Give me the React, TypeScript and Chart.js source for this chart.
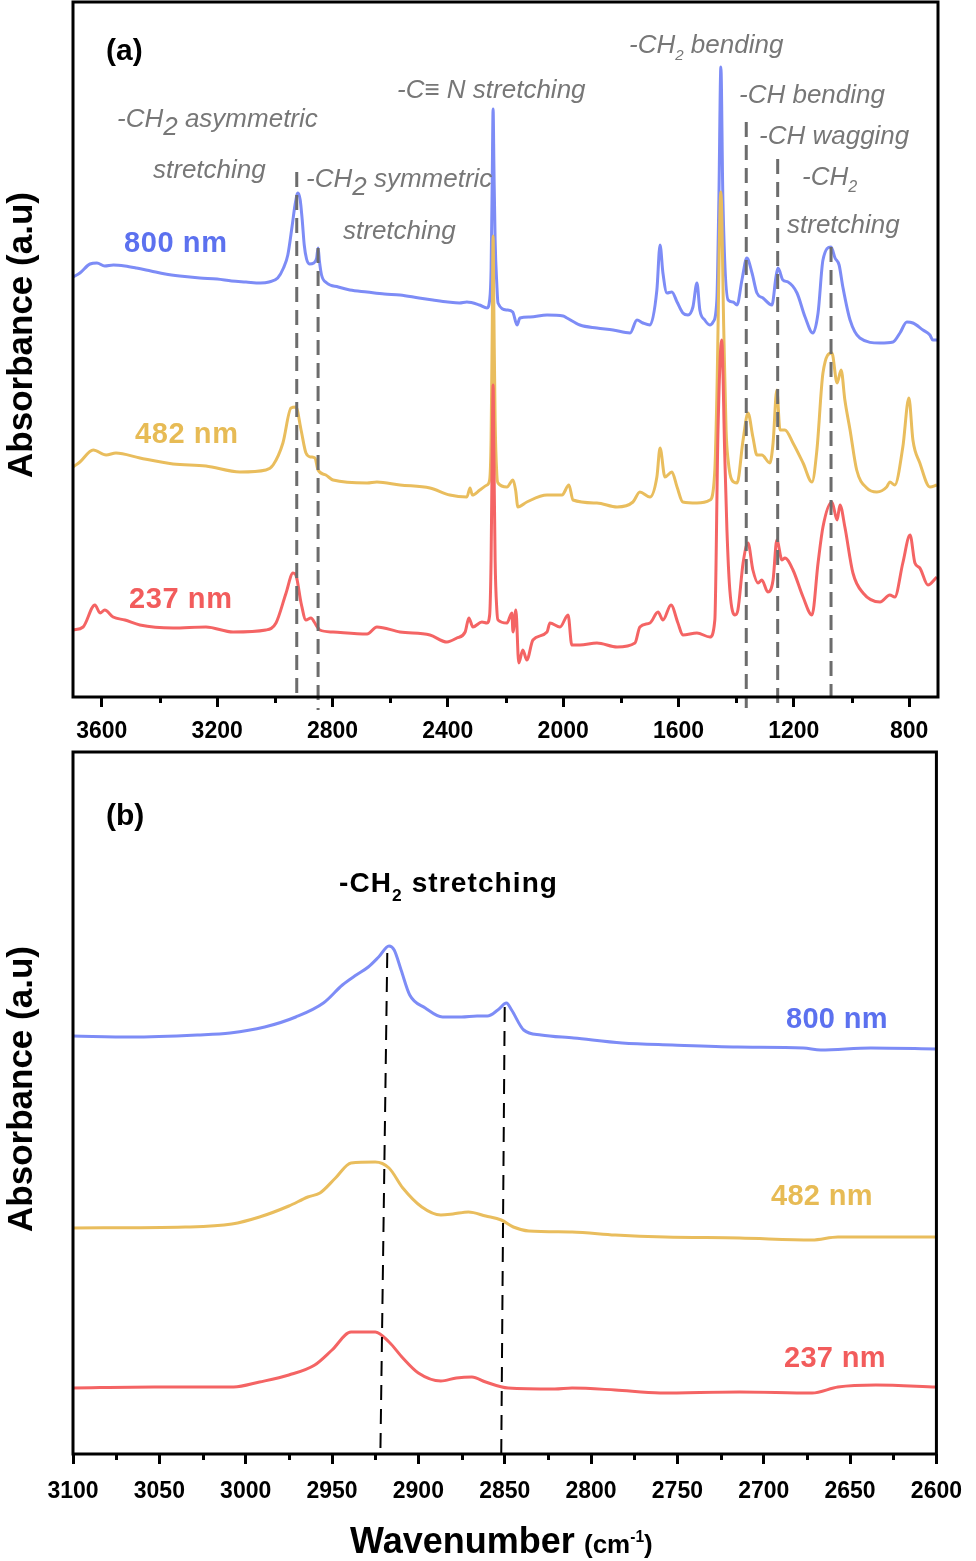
import React, { useEffect, useRef } from 'react';
import { Chart, registerables } from 'chart.js';

Chart.register(...registerables);

const FONT = "'Liberation Sans', Arial, Helvetica, sans-serif";

// ---------------- Panel (a): full FTIR spectra [wavenumber cm-1, absorbance (a.u., offset)] ----------------
const specA800: [number, number][] = [
  [3700, 420], [3676, 424], [3641, 433], [3617, 434], [3590, 431], [3560, 432], [3520, 431], [3480, 429],
  [3430, 426], [3380, 423], [3330, 421], [3260, 419], [3200, 418], [3150, 416], [3100, 415], [3050, 414],
  [3020, 415], [2990, 419], [2970, 429], [2955, 442], [2940, 471], [2930, 492], [2920, 504], [2912, 497],
  [2905, 477], [2898, 452], [2890, 438], [2880, 433], [2865, 434], [2855, 439], [2850, 449], [2845, 435],
  [2838, 422], [2820, 414], [2780, 410], [2740, 407], [2680, 405], [2620, 403], [2566, 402], [2500, 399],
  [2452, 397], [2400, 395], [2360, 394], [2334, 395], [2290, 392], [2264, 389], [2255, 397], [2250, 427],
  [2246, 517], [2243, 588], [2240, 527], [2236, 457], [2230, 412], [2226, 394], [2195, 387], [2175, 385],
  [2160, 372], [2150, 379], [2115, 380], [2056, 382], [2000, 381], [1987, 379], [1942, 372], [1883, 369],
  [1827, 367], [1768, 364], [1744, 377], [1723, 374], [1699, 372], [1675, 407], [1664, 452], [1654, 424],
  [1640, 404], [1623, 405], [1605, 395], [1585, 384], [1567, 382], [1550, 390], [1536, 414], [1526, 387],
  [1509, 377], [1491, 372], [1480, 375], [1467, 397], [1460, 497], [1453, 630], [1446, 497], [1428, 397],
  [1411, 395], [1397, 392], [1380, 417], [1363, 439], [1345, 424], [1328, 404], [1307, 399], [1276, 392],
  [1262, 420], [1255, 429], [1238, 417], [1220, 415], [1189, 404], [1161, 380], [1134, 364], [1116, 384],
  [1099, 437], [1071, 450], [1057, 439], [1043, 432], [1030, 410], [1005, 377], [971, 359], [901, 354],
  [856, 355], [832, 364], [808, 375], [787, 374], [752, 367], [728, 362], [718, 357], [700, 357],
];

const specA482: [number, number][] = [
  [3700, 230], [3676, 235], [3630, 247], [3585, 242], [3551, 244], [3468, 239], [3353, 233], [3239, 231],
  [3121, 225], [3031, 227], [3006, 232], [2972, 254], [2944, 289], [2927, 290], [2909, 267], [2892, 244],
  [2875, 240], [2861, 239], [2850, 227], [2823, 222], [2798, 217], [2680, 214], [2646, 215], [2566, 212],
  [2462, 209], [2393, 202], [2334, 200], [2323, 209], [2315, 202], [2289, 207], [2264, 212], [2255, 217],
  [2250, 257], [2246, 367], [2243, 461], [2240, 377], [2236, 277], [2230, 222], [2226, 214], [2195, 210],
  [2174, 217], [2165, 207], [2157, 190], [2126, 195], [2056, 202], [2004, 202], [1980, 212], [1966, 197],
  [1883, 194], [1813, 190], [1758, 195], [1734, 205], [1699, 200], [1675, 220], [1664, 249], [1647, 220],
  [1623, 225], [1605, 210], [1585, 195], [1536, 194], [1491, 197], [1474, 227], [1467, 300], [1453, 505],
  [1443, 367], [1435, 267], [1428, 237], [1415, 217], [1397, 214], [1376, 257], [1359, 284], [1342, 260],
  [1328, 242], [1311, 242], [1283, 234], [1272, 254], [1259, 307], [1248, 267], [1231, 267], [1203, 254],
  [1168, 234], [1137, 215], [1120, 247], [1099, 324], [1068, 344], [1050, 314], [1036, 327], [1023, 297],
  [1005, 267], [982, 227], [947, 209], [912, 205], [878, 210], [867, 215], [850, 212], [822, 250],
  [801, 299], [787, 257], [763, 234], [728, 210], [704, 212],
];

const specA237: [number, number][] = [
  [3700, 67], [3665, 70], [3624, 92], [3606, 84], [3590, 87], [3561, 80], [3520, 77], [3468, 72],
  [3353, 69], [3239, 70], [3145, 65], [3031, 67], [2996, 74], [2961, 104], [2937, 124], [2927, 122],
  [2909, 94], [2892, 77], [2875, 79], [2857, 72], [2844, 67], [2798, 65], [2680, 63], [2646, 70],
  [2566, 65], [2462, 62], [2403, 55], [2369, 59], [2340, 65], [2327, 79], [2313, 70], [2282, 75],
  [2264, 74], [2255, 82], [2250, 137], [2246, 247], [2243, 312], [2240, 237], [2236, 137], [2230, 87],
  [2226, 77], [2195, 74], [2178, 84], [2174, 65], [2164, 87], [2154, 34], [2140, 47], [2126, 37],
  [2105, 57], [2056, 65], [2046, 74], [2011, 70], [1983, 82], [1970, 52], [1942, 52], [1883, 54],
  [1813, 50], [1751, 54], [1734, 70], [1699, 74], [1671, 85], [1654, 77], [1626, 92], [1602, 74],
  [1585, 62], [1536, 64], [1491, 60], [1474, 77], [1463, 267], [1450, 357], [1440, 247], [1432, 167],
  [1422, 107], [1404, 82], [1394, 87], [1376, 134], [1359, 154], [1342, 127], [1324, 114], [1311, 117],
  [1290, 105], [1272, 117], [1259, 157], [1241, 137], [1231, 139], [1203, 127], [1168, 100], [1137, 82],
  [1116, 134], [1099, 170], [1068, 195], [1050, 177], [1040, 192], [1023, 170], [995, 124], [960, 104],
  [901, 95], [867, 102], [850, 100], [822, 134], [797, 162], [780, 134], [763, 129], [735, 112], [704, 120],
];

const ticksA = [3600, 3200, 2800, 2400, 2000, 1600, 1200, 800];
const minorTicksA = [3400, 3000, 2600, 2200, 1800, 1400, 1000];
// assigned bands: [wavenumber, top of dashed line, bottom of dashed line] (a.u.)
const bandLinesA: [number, number, number][] = [
  [2924, 525, 0], [2850, 449, -13], [1365, 575, -11], [1256, 538, -13], [1071, 450, 0],
];

// ---------------- Panel (b): C-H stretching region ----------------
const specB800: [number, number][] = [
  [3100, 418], [3066, 417], [3028, 419], [3009, 421], [2989, 427], [2971, 437], [2955, 451], [2944, 469],
  [2936, 479], [2929, 487], [2923, 497], [2917, 508], [2914, 504], [2910, 484], [2905, 459], [2896, 446],
  [2886, 437], [2875, 437], [2866, 438], [2860, 438], [2854, 444], [2849, 451], [2846, 444], [2839, 424],
  [2829, 419], [2810, 416], [2782, 411], [2753, 409], [2715, 407], [2677, 406], [2667, 404], [2638, 406],
  [2600, 405],
];

const specB482: [number, number][] = [
  [3100, 226], [3035, 227], [3008, 230], [2992, 237], [2975, 248], [2964, 257], [2957, 261], [2948, 276],
  [2939, 291], [2925, 292], [2917, 286], [2909, 266], [2898, 247], [2887, 239], [2880, 240], [2871, 242],
  [2861, 238], [2852, 234], [2845, 227], [2836, 223], [2811, 222], [2786, 219], [2757, 217], [2714, 216],
  [2672, 214], [2657, 217], [2635, 217], [2600, 217],
];

const specB237: [number, number][] = [
  [3100, 66], [3053, 67], [3007, 67], [2992, 72], [2975, 79], [2960, 89], [2950, 104], [2939, 122],
  [2925, 122], [2917, 112], [2909, 96], [2900, 81], [2887, 73], [2878, 76], [2869, 77], [2861, 72],
  [2848, 66], [2821, 65], [2811, 66], [2786, 64], [2760, 61], [2714, 62], [2672, 61], [2657, 67],
  [2635, 69], [2600, 67],
];

const ticksB = [3100, 3050, 3000, 2950, 2900, 2850, 2800, 2750, 2700, 2650, 2600];
const minorTicksB = [3075, 3025, 2975, 2925, 2875, 2825, 2775, 2725, 2675, 2625];
// [wavenumber at top, top (a.u.), wavenumber at bottom, bottom (a.u.)]
const bandLinesB: [number, number, number, number][] = [
  [2918, 501, 2922, 0],
  [2850, 447, 2852, 0],
];

const seriesNames = ['237 nm', '482 nm', '800 nm'];
const lineColors = ['#f46464', '#e9bd5d', '#7d8cf6'];
const labelColors = ['#f25c5c', '#e7bb55', '#5c71ef'];

type Seg = { t: string; size?: number; dy?: number };

function drawRich(ctx: CanvasRenderingContext2D, x: number, y: number, segs: Seg[], size: number,
  weight: string, style: string, color: string, spacing = 0) {
  let cx = x;
  ctx.save();
  ctx.fillStyle = color;
  ctx.textAlign = 'left';
  ctx.textBaseline = 'alphabetic';
  (ctx as any).letterSpacing = `${spacing}px`;
  for (const s of segs) {
    const sz = s.size ? size * s.size : size;
    ctx.font = `${style} ${weight} ${sz}px ${FONT}`;
    ctx.fillText(s.t, cx, y + (s.dy || 0));
    cx += ctx.measureText(s.t).width;
  }
  ctx.restore();
}

const notesA: { x: number; y: number; segs: Seg[] }[] = [
  { x: 117, y: 127, segs: [{ t: '-CH' }, { t: '2', dy: 8 }, { t: ' asymmetric' }] },
  { x: 153, y: 178, segs: [{ t: 'stretching' }] },
  { x: 306, y: 187, segs: [{ t: '-CH' }, { t: '2', dy: 8 }, { t: ' symmetric' }] },
  { x: 343, y: 239, segs: [{ t: 'stretching' }] },
  { x: 397, y: 98, segs: [{ t: '-C≡ N stretching' }] },
  { x: 629, y: 53, segs: [{ t: '-CH' }, { t: '2', size: 0.58, dy: 7 }, { t: ' bending' }] },
  { x: 739, y: 103, segs: [{ t: '-CH bending' }] },
  { x: 759, y: 144, segs: [{ t: '-CH wagging' }] },
  { x: 802, y: 185, segs: [{ t: '-CH' }, { t: '2', size: 0.62, dy: 7 }] },
  { x: 787, y: 233, segs: [{ t: 'stretching' }] },
];

const seriesLabelsA = [
  { x: 129, y: 608 }, { x: 135, y: 443 }, { x: 124, y: 252 },
];
const seriesLabelsB = [
  { x: 784, y: 617 }, { x: 771, y: 455 }, { x: 786, y: 278 },
];

function drawYTitle(ctx: CanvasRenderingContext2D, cx: number, cy: number) {
  ctx.save();
  ctx.translate(cx, cy);
  ctx.rotate(-Math.PI / 2);
  ctx.font = `bold 35px ${FONT}`;
  ctx.fillStyle = '#000';
  ctx.textAlign = 'center';
  ctx.textBaseline = 'alphabetic';
  ctx.fillText('Absorbance (a.u)', 0, 0);
  ctx.restore();
}

function drawMinorTicks(ctx: CanvasRenderingContext2D, scale: any, bottom: number, values: number[], len: number) {
  ctx.strokeStyle = '#000';
  ctx.lineWidth = 3;
  for (const v of values) {
    const px = Math.round(scale.getPixelForValue(v)) + 0.5;
    ctx.beginPath();
    ctx.moveTo(px, bottom);
    ctx.lineTo(px, bottom + len);
    ctx.stroke();
  }
}

const decorA = {
  id: 'decorA',
  afterDatasetsDraw(chart: any) {
    const { ctx, chartArea: ca, scales } = chart;
    const x = scales.x, y = scales.y;
    ctx.save();
    ctx.strokeStyle = '#6c6c6c';
    ctx.lineWidth = 3;
    ctx.setLineDash([15, 8]);
    for (const [wn, top, bot] of bandLinesA) {
      const px = x.getPixelForValue(wn);
      ctx.beginPath();
      ctx.moveTo(px, y.getPixelForValue(top));
      ctx.lineTo(px, y.getPixelForValue(bot));
      ctx.stroke();
    }
    ctx.setLineDash([]);
    ctx.strokeStyle = '#000';
    ctx.lineWidth = 3;
    ctx.strokeRect(ca.left, ca.top, ca.right - ca.left, ca.bottom - ca.top);
    drawMinorTicks(ctx, x, ca.bottom, minorTicksA, 6);
    for (const n of notesA) drawRich(ctx, n.x, n.y, n.segs, 26, 'normal', 'italic', '#777777');
    seriesLabelsA.forEach((p, i) => drawRich(ctx, p.x, p.y, [{ t: seriesNames[i] }], 29, 'bold', 'normal', labelColors[i], 0.6));
    drawRich(ctx, 106, 60, [{ t: '(a)' }], 30, 'bold', 'normal', '#000');
    drawYTitle(ctx, 32, 335);
    ctx.restore();
  },
};

const decorB = {
  id: 'decorB',
  afterDatasetsDraw(chart: any) {
    const { ctx, chartArea: ca, scales } = chart;
    const x = scales.x, y = scales.y;
    ctx.save();
    ctx.strokeStyle = '#000';
    ctx.lineWidth = 2;
    ctx.setLineDash([15, 9]);
    for (const [wt, top, wb, bot] of bandLinesB) {
      ctx.beginPath();
      ctx.moveTo(x.getPixelForValue(wt), y.getPixelForValue(top));
      ctx.lineTo(x.getPixelForValue(wb), y.getPixelForValue(bot));
      ctx.stroke();
    }
    ctx.setLineDash([]);
    ctx.lineWidth = 3;
    ctx.strokeRect(ca.left, ca.top, ca.right - ca.left, ca.bottom - ca.top);
    drawMinorTicks(ctx, x, ca.bottom, minorTicksB, 6);
    drawRich(ctx, 339, 142, [{ t: '-CH' }, { t: '2', size: 0.62, dy: 9 }, { t: ' stretching' }], 28, 'bold', 'normal', '#000', 1.1);
    seriesLabelsB.forEach((p, i) => drawRich(ctx, p.x, p.y, [{ t: seriesNames[i] }], 29, 'bold', 'normal', labelColors[i], 0.3));
    drawRich(ctx, 106, 75, [{ t: '(b)' }], 30, 'bold', 'normal', '#000');
    drawYTitle(ctx, 32, 339);
    // x-axis title
    drawRich(ctx, 350, 803, [{ t: 'Wavenumber' }], 36, 'bold', 'normal', '#000');
    drawRich(ctx, 584, 803, [{ t: '(cm' }, { t: '-1', size: 0.6, dy: -11 }, { t: ')' }], 26, 'bold', 'normal', '#000');
    ctx.restore();
  },
};

function makeDatasets(series: [number, number][][]) {
  return series.map((s, i) => ({
    label: seriesNames[i],
    data: s.map(([wn, a]) => ({ x: wn, y: a })),
    borderColor: lineColors[i],
    backgroundColor: lineColors[i],
    borderWidth: 3,
    pointRadius: 0,
    cubicInterpolationMode: 'monotone' as const,
    borderJoinStyle: 'round' as const,
    fill: false,
  }));
}

function xScale(min: number, max: number, ticks: number[], height: number, tickLen: number, pad: number) {
  return {
    type: 'linear' as const,
    reverse: true,
    min,
    max,
    afterBuildTicks: (s: any) => { s.ticks = ticks.map((v) => ({ value: v })); },
    afterFit: (s: any) => { s.height = height; },
    ticks: {
      font: { family: FONT, size: 23, weight: 'bold' as const },
      color: '#000',
      padding: pad,
      maxRotation: 0,
      autoSkip: false,
      callback: (v: any) => String(v),
    },
    grid: { drawOnChartArea: false, drawTicks: true, tickLength: tickLen, tickWidth: 3, tickColor: '#000' },
    border: { display: false },
  };
}

export default function App() {
  const refA = useRef<HTMLCanvasElement>(null);
  const refB = useRef<HTMLCanvasElement>(null);

  useEffect(() => {
    const chartA = new Chart(refA.current!, {
      type: 'line',
      data: { datasets: makeDatasets([specA237, specA482, specA800]) as any },
      options: {
        animation: false,
        responsive: false,
        maintainAspectRatio: false,
        devicePixelRatio: 1,
        layout: { padding: { left: 73, right: 38, top: 2, bottom: 0 } },
        plugins: { legend: { display: false }, tooltip: { enabled: false } },
        scales: {
          x: xScale(700, 3700, ticksA, 53, 10, 11) as any,
          y: { display: false, min: 0, max: 695 },
        },
      },
      plugins: [decorA],
    });
    const chartB = new Chart(refB.current!, {
      type: 'line',
      data: { datasets: makeDatasets([specB237, specB482, specB800]) as any },
      options: {
        animation: false,
        responsive: false,
        maintainAspectRatio: false,
        devicePixelRatio: 1,
        layout: { padding: { left: 73, right: 28, top: 2, bottom: 0 } },
        plugins: { legend: { display: false }, tooltip: { enabled: false } },
        scales: {
          x: xScale(2600, 3100, ticksB, 107, 10, 14) as any,
          y: { display: false, min: 0, max: 702 },
        },
      },
      plugins: [decorB],
    });
    return () => { chartA.destroy(); chartB.destroy(); };
  }, []);

  return (
    <div style={{ position: 'absolute', left: 0, top: 0, width: 976, height: 1561, background: '#fff', overflow: 'hidden' }}>
      <canvas ref={refA} width={976} height={750} style={{ position: 'absolute', left: 0, top: 0, display: 'block' }} />
      <canvas ref={refB} width={976} height={811} style={{ position: 'absolute', left: 0, top: 750, display: 'block' }} />
    </div>
  );
}
